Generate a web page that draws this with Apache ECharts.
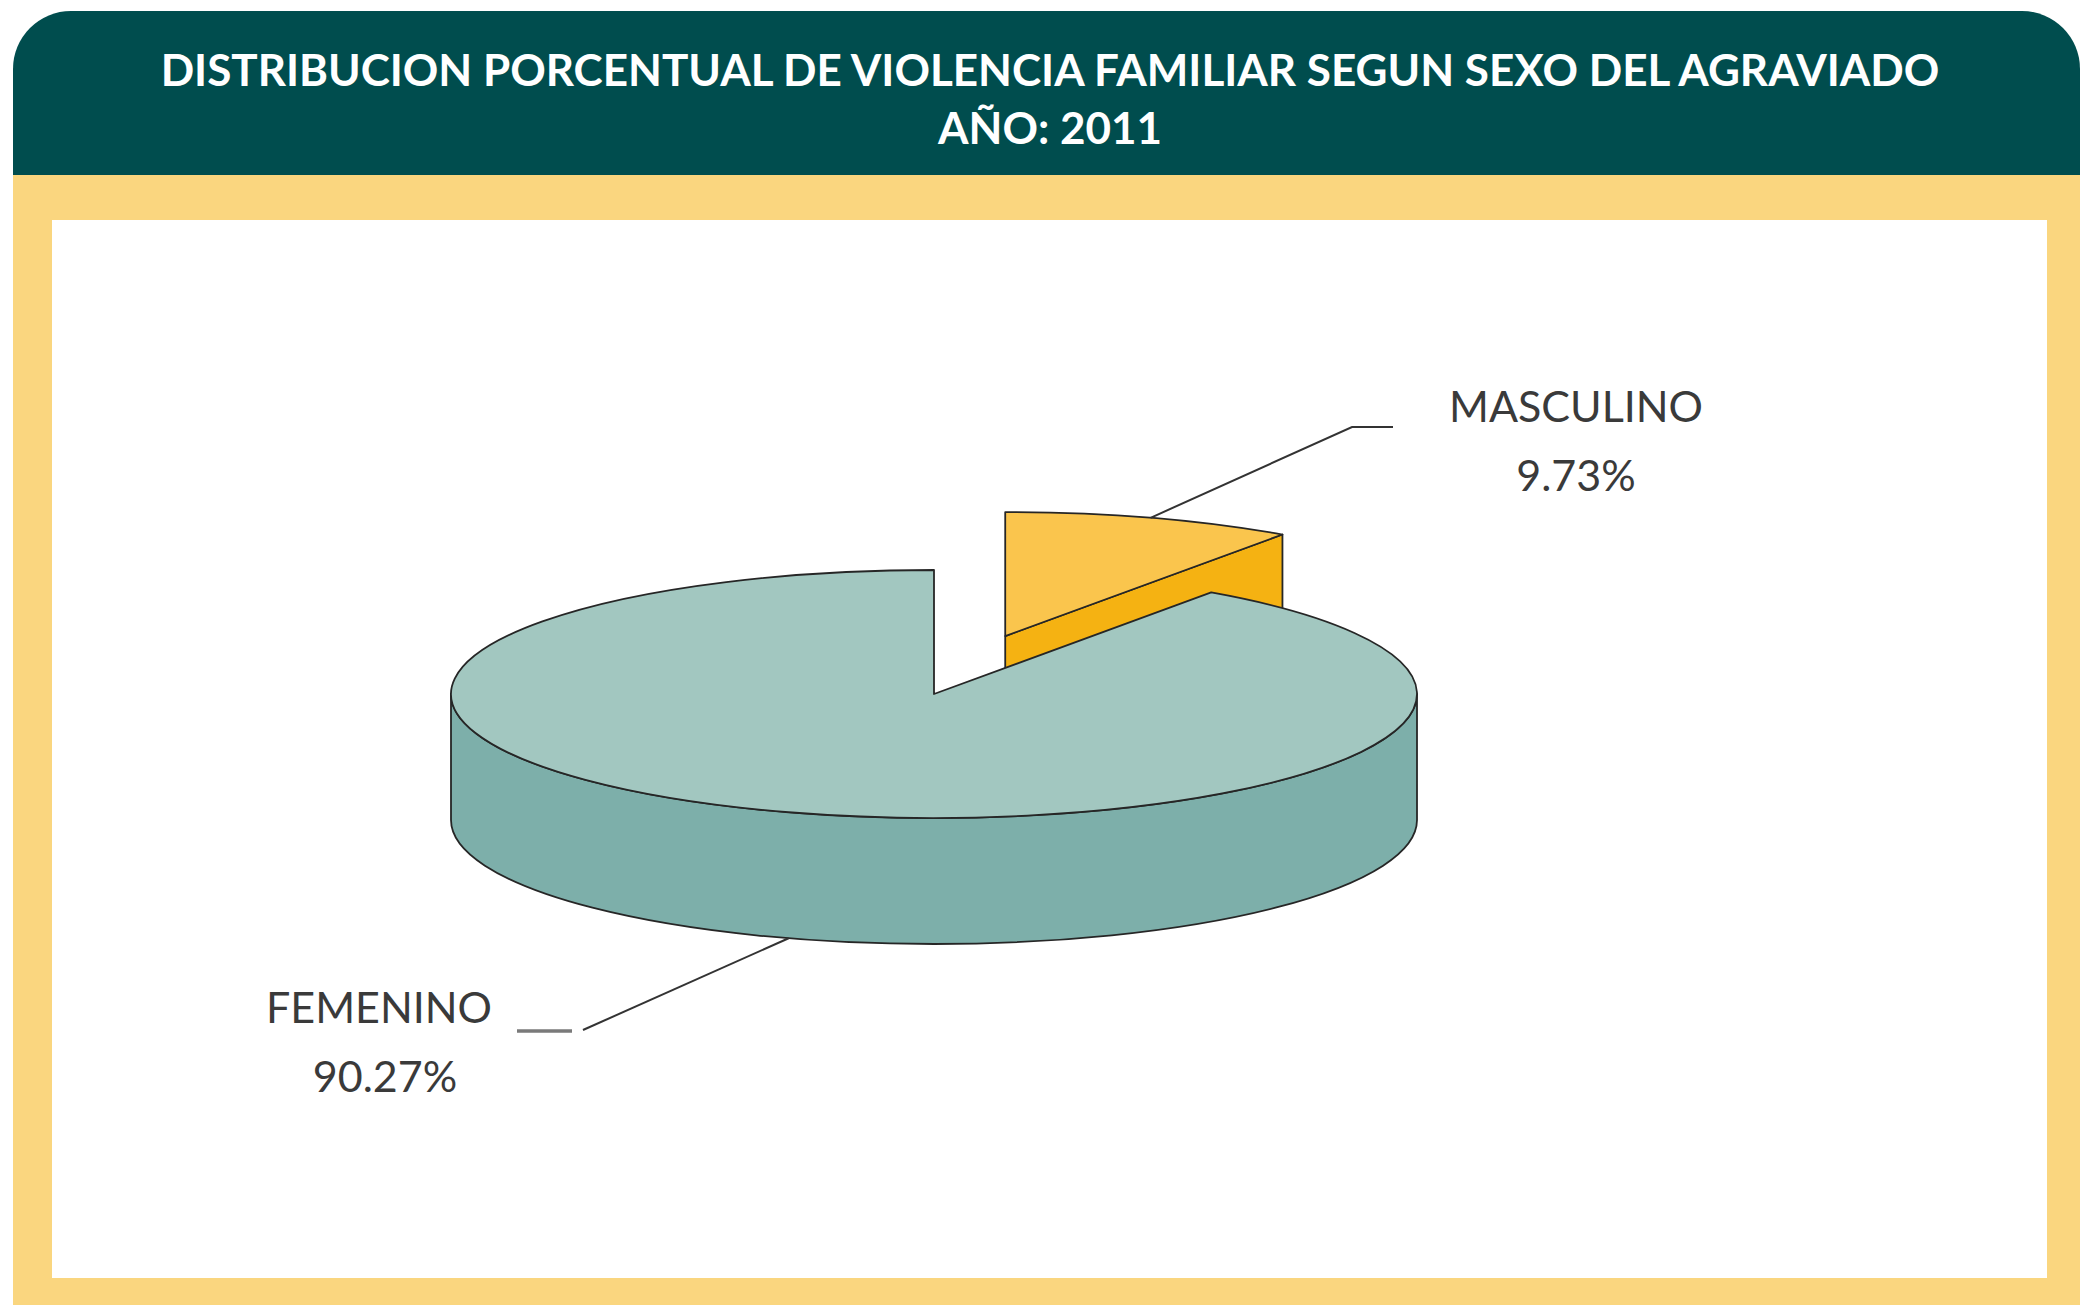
<!DOCTYPE html>
<html>
<head>
<meta charset="utf-8">
<script src="https://cdn.jsdelivr.net/npm/echarts@6/dist/echarts.min.js"></script>
<style>
  html, body { margin: 0; padding: 0; background: #fff; }
  #chart { width: 2080px; height: 1305px; }
</style>
</head>
<body>
<div id="chart"></div>
<script>
// data
const categories = ['MASCULINO', 'FEMENINO']
const values = [9.73, 90.27]
const titleLines = ['DISTRIBUCION PORCENTUAL DE VIOLENCIA FAMILIAR SEGUN SEXO DEL AGRAVIADO', 'AÑO: 2011']

// look of the 3d pie
const pie = { cx: 934, cy: 694, rx: 483, ry: 124, depth: 126 }
const explodeBy = [0.49, 0]
const topColors = ['#FAC54D', '#A2C7C0']
const sideColors = ['#F5B212', '#7DAFAA']
const edge = '#262626'
// label anchors: elbow of leader, end of leader, text centre
const labelLayout = [
  { elbow: [1352, 427], end: [1393, 427], text: [1576, 405], start: 'top' },
  { elbow: [583, 1030], end: null, text: [379, 1006], start: 'bottom', dash: [517, 572, 1031] }
]

const chart = echarts.init(document.getElementById('chart'), null, { renderer: 'svg' })

const total = values.reduce((a, b) => a + b, 0)
const f = n => n.toFixed(2)

function pt(c, a, dy) {
  return [c[0] + pie.rx * Math.sin(a), c[1] - pie.ry * Math.cos(a) + (dy || 0)]
}

function renderItem(params, api) {
  const i = params.dataIndex
  const v = api.value(0)
  let before = 0
  for (let k = 0; k < i; k++) before += values[k]
  const a0 = before / total * Math.PI * 2
  const a1 = (before + v) / total * Math.PI * 2
  const mid = (a0 + a1) / 2
  const d = explodeBy[i]
  const c = [pie.cx + d * pie.rx * Math.sin(mid), pie.cy - d * pie.ry * Math.cos(mid)]
  const D = pie.depth
  const children = []
  const lineStyle = { stroke: edge, lineWidth: 1.8, lineJoin: 'round' }

  // outer wall, front half only
  const w0 = Math.max(a0, Math.PI / 2)
  const w1 = Math.min(a1, Math.PI * 1.5)
  if (w1 > w0) {
    const p0 = pt(c, w0), p1 = pt(c, w1)
    const large = (w1 - w0) > Math.PI ? 1 : 0
    const path = 'M' + f(p0[0]) + ' ' + f(p0[1]) +
      ' A' + pie.rx + ' ' + pie.ry + ' 0 ' + large + ' 1 ' + f(p1[0]) + ' ' + f(p1[1]) +
      ' L' + f(p1[0]) + ' ' + f(p1[1] + D) +
      ' A' + pie.rx + ' ' + pie.ry + ' 0 ' + large + ' 0 ' + f(p0[0]) + ' ' + f(p0[1] + D) + ' Z'
    children.push({ type: 'path', shape: { pathData: path }, style: Object.assign({ fill: sideColors[i] }, lineStyle) })
  }

  // cut faces that look towards the viewer
  const faces = []
  if (Math.sin(a1) > 0.01) faces.push(a1)
  if (Math.sin(a0) < -0.01) faces.push(a0)
  faces.forEach(a => {
    const p = pt(c, a)
    children.push({
      type: 'polygon',
      shape: { points: [c, p, [p[0], p[1] + D], [c[0], c[1] + D]] },
      style: Object.assign({ fill: sideColors[i] }, lineStyle)
    })
  })

  // top face
  const t0 = pt(c, a0), t1 = pt(c, a1)
  const big = (a1 - a0) > Math.PI ? 1 : 0
  const top = 'M' + f(c[0]) + ' ' + f(c[1]) + ' L' + f(t0[0]) + ' ' + f(t0[1]) +
    ' A' + pie.rx + ' ' + pie.ry + ' 0 ' + big + ' 1 ' + f(t1[0]) + ' ' + f(t1[1]) + ' Z'
  children.push({ type: 'path', shape: { pathData: top }, style: Object.assign({ fill: topColors[i] }, lineStyle) })

  // leader line and label
  const lay = labelLayout[i]
  const s = lay.start === 'top' ? pt(c, mid) : pt(c, mid, D)
  const pts = [s, lay.elbow]
  if (lay.end) pts.push(lay.end)
  children.push({ type: 'polyline', shape: { points: pts }, style: { stroke: '#333', lineWidth: 2, fill: null } })
  if (lay.dash) {
    children.push({ type: 'line', shape: { x1: lay.dash[0], y1: lay.dash[2], x2: lay.dash[1], y2: lay.dash[2] }, style: { stroke: '#7a7a7a', lineWidth: 3.5 } })
  }
  const font = 'normal 43px Lato, "Noto Sans", sans-serif'
  children.push({
    type: 'text',
    style: { text: categories[i], x: lay.text[0], y: lay.text[1], fill: '#3a3a3a', font: font, align: 'center', verticalAlign: 'middle', textAlign: 'center', textVerticalAlign: 'middle' }
  })
  children.push({
    type: 'text',
    style: { text: v.toFixed(2) + '%', x: lay.text[0] + (i === 1 ? 6 : 0), y: lay.text[1] + 69, fill: '#3a3a3a', font: font, align: 'center', verticalAlign: 'middle', textAlign: 'center', textVerticalAlign: 'middle' }
  })

  return { type: 'group', children: children }
}

const option = {
  animation: false,
  graphic: [
    { type: 'rect', z: 0, shape: { x: 13, y: 175, width: 2067, height: 1130 }, style: { fill: '#FAD67F' } },
    { type: 'rect', z: 1, shape: { x: 52, y: 220, width: 1995, height: 1058 }, style: { fill: '#ffffff' } },
    { type: 'rect', z: 1, shape: { x: 13, y: 11, width: 2067, height: 164, r: [58, 58, 0, 0] }, style: { fill: '#004D4E' } }
  ],
  title: {
    text: titleLines.join('\n'),
    left: 1050,
    top: 40,
    padding: 0,
    textAlign: 'center',
    textStyle: {
      color: '#ffffff',
      fontFamily: 'Lato, "Noto Sans", sans-serif',
      fontWeight: 'bold',
      fontSize: 44,
      lineHeight: 58
    }
  },
  series: [{
    type: 'custom',
    coordinateSystem: 'none',
    renderItem: renderItem,
    data: values.map((v, i) => ({ name: categories[i], value: v }))
  }]
}

chart.setOption(option)
</script>
</body>
</html>
